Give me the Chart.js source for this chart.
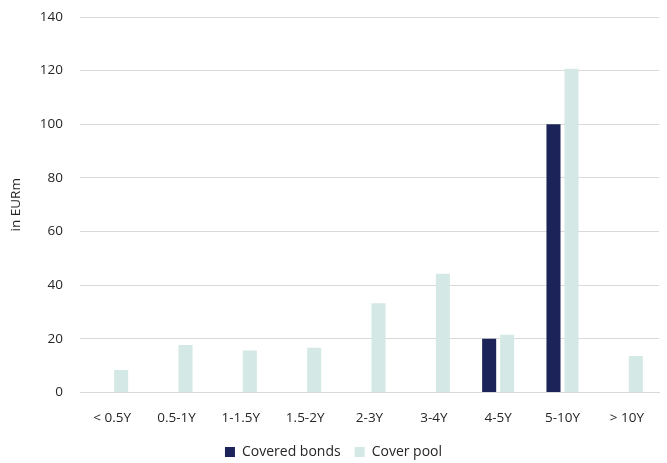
<!DOCTYPE html>
<html>
<head>
<meta charset="utf-8">
<script src="https://cdn.jsdelivr.net/npm/chart.js@4"></script>
<style>
  html, body { margin: 0; padding: 0; background: #fff; }
</style>
</head>
<body>
<canvas id="maturity" width="667" height="463"></canvas>
<script>
const categories = ['< 0.5Y', '0.5-1Y', '1-1.5Y', '1.5-2Y', '2-3Y', '3-4Y', '4-5Y', '5-10Y', '> 10Y']
const coveredBonds = [0, 0, 0, 0, 0, 0, 20, 100, 0]
const coverPool = [8.4, 17.7, 15.7, 16.7, 33.3, 44.3, 21.5, 120.7, 13.6]
const yTicks = [0, 20, 40, 60, 80, 100, 120, 140]

Chart.defaults.font.family = '"Open Sans", "Liberation Sans", sans-serif'
Chart.defaults.color = '#262626'

const ctxMaturity = document.getElementById('maturity')
if(ctxMaturity) {
  const maturity = {
    type: 'bar',
    data: {
      labels: categories,
      datasets: [
        {
          label: 'Covered bonds',
          backgroundColor: '#1b2358',
          data: coveredBonds,
        },
        {
          label: 'Cover pool',
          backgroundColor: '#d4e9e5',
          data: coverPool,
        },
      ],
    },
    options: {
      responsive: false,
      animation: false,
      categoryPercentage: 0.56,
      barPercentage: 0.78,
      layout: {
        padding: { left: 8, right: 8, top: 17, bottom: -6 },
      },
      plugins: {
        legend: {
          position: 'bottom',
          labels: {
            boxWidth: 10,
            boxHeight: 10,
            padding: 14,
            font: { size: 14 },
          },
        },
        tooltip: { enabled: false },
      },
      scales: {
        x: {
          grid: { display: false },
          border: { color: '#d9d9d9', width: 1 },
          ticks: { font: { size: 13.5 }, padding: 10, maxRotation: 0 },
          // room between tick labels and legend
          afterFit: (axis) => { axis.height = 38.5 },
        },
        y: {
          min: 0,
          max: 140,
          afterBuildTicks: (axis) => { axis.ticks = yTicks.map(v => ({ value: v })) },
          grid: { color: '#d9d9d9', tickColor: 'rgba(0,0,0,0)', tickLength: 15 },
          border: { display: false },
          ticks: { font: { size: 13.5 }, padding: 2 },
          afterFit: (axis) => { axis.width = 72 },
          title: {
            display: true,
            text: 'in EURm',
            font: { size: 13.5 },
            padding: 0,
          },
        },
      },
    },
  }

  window.myBar = new Chart(ctxMaturity, maturity)
}
</script>
</body>
</html>
